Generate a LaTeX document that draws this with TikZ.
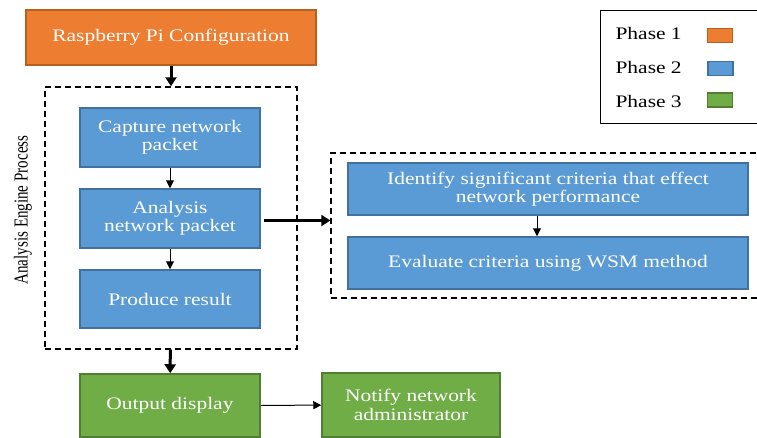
\documentclass[tikz,border=0pt]{standalone}
\usepackage{fontspec}
\setmainfont{Liberation Serif}[FakeStretch=1.22]
\newfontfamily\sidefont{Liberation Serif}[FakeStretch=0.76]
\usetikzlibrary{arrows.meta}
\definecolor{orangefill}{HTML}{ED7D31}\definecolor{orangeline}{HTML}{B8601F}
\definecolor{bluefill}{HTML}{5B9BD5}\definecolor{blueline}{HTML}{41719C}
\definecolor{greenfill}{HTML}{70AD47}\definecolor{greenline}{HTML}{507E32}
\tikzset{
  box/.style={rectangle, line width=1.5pt, text=white, align=center, inner sep=2pt,
    font=\fontsize{17.6}{18.4}\selectfont},
  phaseone/.style={box, fill=orangefill, draw=orangeline},
  phasetwo/.style={box, fill=bluefill, draw=blueline},
  phasethree/.style={box, fill=greenfill, draw=greenline},
  group/.style={draw, line width=1.4pt, dash pattern=on 6pt off 4pt,
    minimum width=#1},
  swatch/.style={rectangle, line width=1.2pt, minimum width=25pt, minimum height=14pt},
  bigarrow/.style={-{Triangle[length=9pt,width=11pt]}, line width=3pt},
  smallarrow/.style={-{Triangle[length=8pt,width=8pt]}, line width=1pt}
}
\begin{document}
\begin{tikzpicture}[x=1pt,y=-1pt]
  \useasboundingbox (0,0) rectangle (757,437);
  % phase 1
  \node[phaseone, minimum width=290pt, minimum height=55pt] (config) at (171,37.5) {Raspberry Pi Configuration};
  % analysis engine
  \node[group=252pt, minimum height=262pt] (engine) at (171,218) {};
  \node[phasetwo, minimum width=180pt, minimum height=59pt] (capture) at (170,137.5) {Capture network\\packet};
  \node[phasetwo, minimum width=180pt, minimum height=59pt] (analysis) at (170,218.5) {Analysis\\network packet};
  \node[phasetwo, minimum width=180pt, minimum height=58pt] (result) at (170,299) {Produce result};
  \node[rotate=90, font=\sidefont\fontsize{19.8}{19.8}\selectfont] (side) at (23,210) {Analysis Engine Process};
  % criteria
  \node[group=440pt, minimum height=145pt] (crit) at (551,225.5) {};
  \node[phasetwo, minimum width=400pt, minimum height=52pt] (identify) at (548,189) {Identify significant criteria that effect\\network performance};
  \node[phasetwo, minimum width=400pt, minimum height=52pt] (evaluate) at (548,263) {Evaluate criteria using WSM method};
  % phase 3
  \node[phasethree, minimum width=180pt, minimum height=63pt] (output) at (170,405.5) {Output display};
  \node[phasethree, minimum width=178pt, minimum height=64pt] (notify) at (411,405) {Notify network\\administrator};
  % legend
  \node[draw, line width=1pt, minimum width=175pt, minimum height=113pt] (legend) at (687.5,66.5) {};
  \node[anchor=west, font=\fontsize{17.6}{18.4}\selectfont] (l1) at (612,33) {Phase 1};
  \node[anchor=west, font=\fontsize{17.6}{18.4}\selectfont] (l2) at (612,67) {Phase 2};
  \node[anchor=west, font=\fontsize{17.6}{18.4}\selectfont] (l3) at (612,101) {Phase 3};
  \node[swatch, fill=orangefill, draw=orangeline] (s1) at (720,35.5) {};
  \node[swatch, fill=bluefill, draw=blueline] (s2) at (720.5,68.5) {};
  \node[swatch, fill=greenfill, draw=greenline] (s3) at (720,100) {};
  % arrows
  \draw[bigarrow] (config) -- (engine);
  \draw[smallarrow] (capture) -- (analysis);
  \draw[smallarrow] (analysis) -- (result);
  \draw[bigarrow] (engine) -- (output);
  \draw[bigarrow] ([xshift=3pt,yshift=-2pt]analysis.east) -- ([yshift=-2pt]analysis.east -| crit.west);
  \draw[smallarrow] ([xshift=-11pt]identify.south) -- ([xshift=-11pt]evaluate.north);
  \draw[smallarrow] (output) -- (notify);
\end{tikzpicture}
\end{document}
